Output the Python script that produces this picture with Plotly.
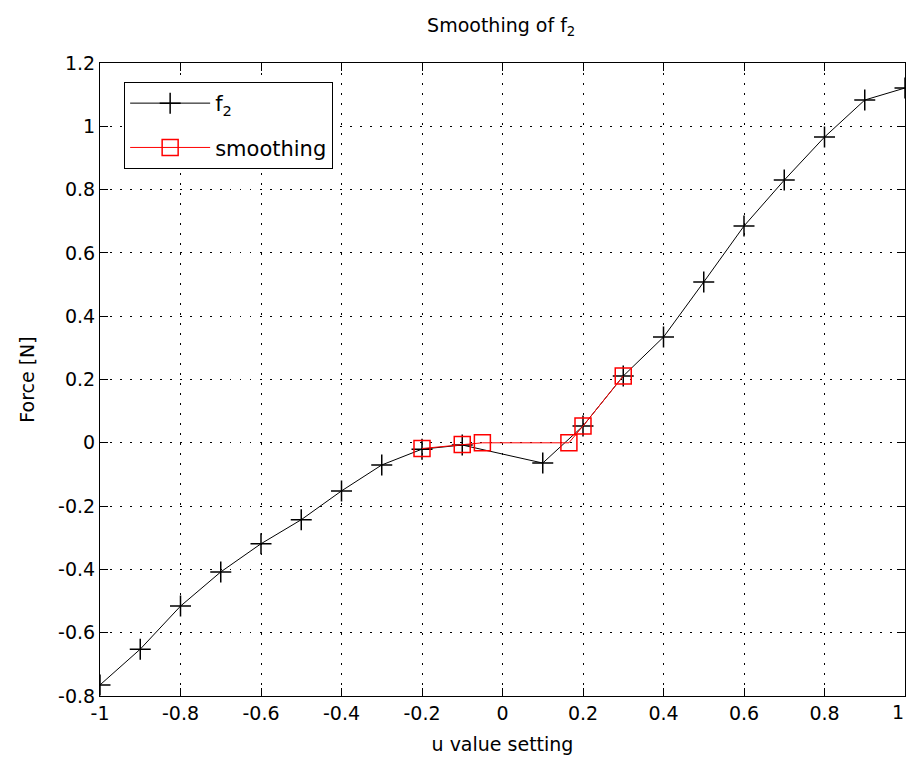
import plotly.graph_objects as go

# f2 data
f2_x = [-1.0, -0.9, -0.8, -0.7, -0.6, -0.5, -0.4, -0.3, -0.2, -0.1, 0.1, 0.2, 0.3, 0.4, 0.5, 0.6, 0.7, 0.8, 0.9, 1.0]
f2_y = [-0.765, -0.652, -0.516, -0.408, -0.319, -0.243, -0.152, -0.070, -0.020, -0.007, -0.064, 0.053, 0.211, 0.334, 0.508, 0.685, 0.830, 0.966, 1.083, 1.121]

# smoothing data
sm_x = [-0.2, -0.1, -0.05, 0.165, 0.2, 0.3]
sm_y = [-0.018, -0.005, 0.0, 0.0, 0.053, 0.211]

x_ticks = [-1, -0.8, -0.6, -0.4, -0.2, 0, 0.2, 0.4, 0.6, 0.8, 1]
x_labels = ["-1", "-0.8", "-0.6", "-0.4", "-0.2", "0", "0.2", "0.4", "0.6", "0.8", "1"]
y_ticks = [-0.8, -0.6, -0.4, -0.2, 0, 0.2, 0.4, 0.6, 0.8, 1, 1.2]
y_labels = ["-0.8", "-0.6", "-0.4", "-0.2", "0", "0.2", "0.4", "0.6", "0.8", "1", "1.2"]

FONT = "DejaVu Sans, Liberation Sans, sans-serif"
FS = 19

fig = go.Figure()
fig.add_trace(go.Scatter(
    x=f2_x, y=f2_y, mode="lines+markers", name="f<sub>2</sub>",
    legendgroup="a",
    line=dict(color="black", width=1),
    marker=dict(symbol="cross-thin", size=15, line=dict(color="black", width=1.5), color="black"),
))
fig.add_trace(go.Scatter(
    x=sm_x, y=sm_y, mode="lines+markers", name="smoothing",
    legendgroup="b",
    line=dict(color="red", width=1),
    marker=dict(symbol="square-open", size=16, line=dict(color="red", width=1.5), color="red"),
))

axis_common = dict(
    showline=True, linecolor="black", linewidth=1, mirror="allticks",
    ticks="inside", ticklen=8, tickwidth=1, tickcolor="black",
    showgrid=True, gridcolor="black", gridwidth=1, griddash="1.5px,8.5px",
    zeroline=False, tickfont=dict(family=FONT, size=FS, color="black"),
    ticklabeloverflow="allow", automargin=False,
)

# last x tick label drawn as a right-anchored annotation so it stays inside the page
shown_x_labels = x_labels[:-1] + [""]

fig.update_layout(
    width=908, height=767,
    paper_bgcolor="white", plot_bgcolor="white",
    margin=dict(l=100, r=3, t=63, b=71),
    title=dict(text="Smoothing of f<sub>2</sub>", x=0.552, xanchor="center", y=0.976, yanchor="top",
               font=dict(family=FONT, size=FS, color="black")),
    xaxis=dict(range=[-1, 1], tickvals=x_ticks, ticktext=shown_x_labels,
               title=dict(text="u value setting", font=dict(family=FONT, size=FS, color="black"), standoff=14),
               **axis_common),
    yaxis=dict(range=[-0.8, 1.2], tickvals=y_ticks, ticktext=y_labels,
               title=dict(text="Force [N]", font=dict(family=FONT, size=FS, color="black"), standoff=18),
               **axis_common),
    legend=dict(x=0.03, y=0.97, xanchor="left", yanchor="top",
                bgcolor="white", bordercolor="black", borderwidth=1,
                font=dict(family=FONT, size=21, color="black"),
                itemwidth=80, traceorder="grouped", tracegroupgap=14),
    showlegend=True,
    annotations=[dict(x=x_ticks[-1], xref="x", y=0, yref="paper", text=x_labels[-1],
                      xanchor="right", yanchor="top", yshift=-3, xshift=1, showarrow=False,
                      font=dict(family=FONT, size=FS, color="black"))],
)

fig.write_html("out.html")
